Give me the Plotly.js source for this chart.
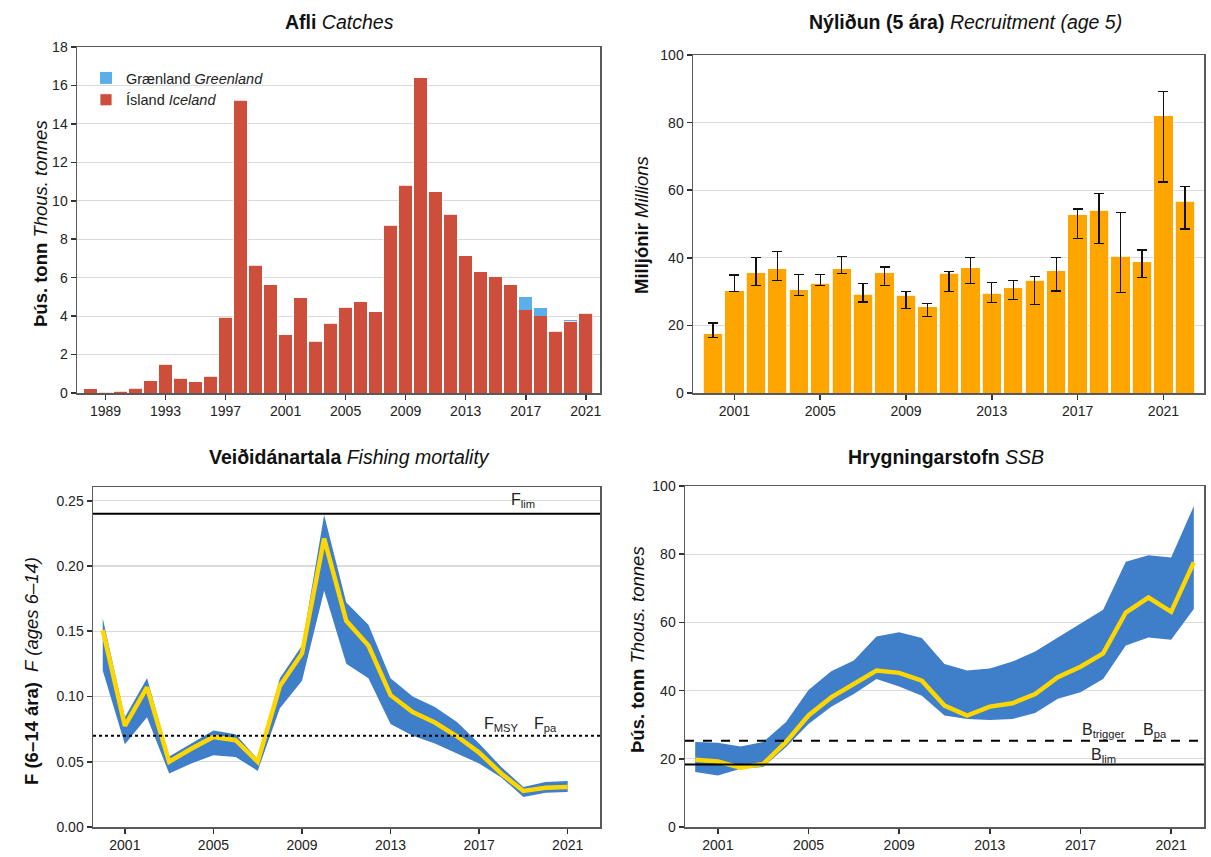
<!DOCTYPE html>
<html>
<head>
<meta charset="utf-8">
<script src="https://cdn.plot.ly/plotly-3.0.1.min.js"></script>
<style>html,body{margin:0;padding:0;background:#fff;}#chart{width:1211px;height:857px;}</style>
</head>
<body>
<div id="chart"></div>
<script>
// ---------- DATA ----------
// Catches (thous. tonnes)
const catchYears = [1988,1989,1990,1991,1992,1993,1994,1995,1996,1997,1998,1999,2000,2001,2002,2003,2004,2005,2006,2007,2008,2009,2010,2011,2012,2013,2014,2015,2016,2017,2018,2019,2020,2021];
const catchIceland = [0.22,0.05,0.10,0.24,0.64,1.49,0.76,0.59,0.88,3.93,15.22,6.64,5.64,3.03,4.95,2.68,3.63,4.46,4.76,4.22,8.74,10.81,16.40,10.47,9.29,7.13,6.31,6.06,5.62,4.33,4.03,3.22,3.74,4.15];
const catchGreenland = [0,0,0,0,0,0,0,0,0,0,0,0,0,0,0,0,0,0,0,0,0,0,0,0,0,0,0,0,0,0.69,0.40,0,0.06,0];

// Recruitment age 5 (millions)
const recYears = [2000,2001,2002,2003,2004,2005,2006,2007,2008,2009,2010,2011,2012,2013,2014,2015,2016,2017,2018,2019,2020,2021,2022];
const recValue = [17.5,30.3,35.6,36.7,30.5,32.4,36.8,29.2,35.6,28.9,25.5,35.4,37.0,29.5,31.1,33.4,36.1,52.7,54.0,40.5,38.9,82.1,56.8];
const recUpper = [20.7,34.9,40.1,41.9,35.0,35.0,40.3,32.3,37.3,30.0,26.5,36.0,40.1,32.6,33.2,34.5,40.1,54.4,59.0,53.4,42.3,89.1,61.1];
const recLower = [16.5,30.1,31.8,33.3,28.8,31.9,35.3,26.9,31.8,25.1,22.7,30.1,32.4,26.8,27.6,26.2,30.2,45.8,44.3,29.8,34.1,62.4,48.5];

// Fishing mortality F (ages 6-14)
const fYears = [2000,2001,2002,2003,2004,2005,2006,2007,2008,2009,2010,2011,2012,2013,2014,2015,2016,2017,2018,2019,2020,2021];
const fValue = [0.151,0.0775,0.107,0.050,0.060,0.069,0.0665,0.050,0.108,0.133,0.221,0.158,0.139,0.101,0.088,0.080,0.0695,0.057,0.041,0.0276,0.030,0.0307];
const fUpper = [0.160,0.084,0.114,0.054,0.064,0.074,0.071,0.052,0.114,0.139,0.239,0.172,0.155,0.114,0.100,0.092,0.0805,0.064,0.046,0.0307,0.0345,0.0353];
const fLower = [0.120,0.0634,0.084,0.041,0.0486,0.055,0.0537,0.043,0.091,0.112,0.181,0.125,0.114,0.079,0.070,0.064,0.056,0.0486,0.038,0.023,0.0263,0.0268];
const Flim = 0.24;
const Fmsy = 0.07;

// Spawning stock biomass (thous. tonnes)
const ssbYears = [2000,2001,2002,2003,2004,2005,2006,2007,2008,2009,2010,2011,2012,2013,2014,2015,2016,2017,2018,2019,2020,2021,2022];
const ssbValue = [19.7,19.2,17.4,18.5,24.9,32.7,38.0,41.8,45.9,45.2,42.9,35.6,32.7,35.3,36.3,39.0,43.9,47.0,50.9,62.9,67.3,63.1,77.6];
const ssbUpper = [24.9,24.7,23.6,24.9,30.7,40.2,45.7,48.8,55.9,57.1,55.4,47.8,45.9,46.5,48.5,51.5,55.6,59.7,63.7,77.8,79.7,79.0,94.1];
const ssbLower = [16.1,15.1,17.1,17.6,23.4,30.2,35.3,39.0,43.4,41.2,38.5,32.7,31.7,31.4,31.7,33.4,37.6,39.5,43.4,53.2,55.6,54.9,63.9];
const Btrigger = 25.3;
const Blim = 18.3;

// ---------- STYLE ----------
const FONT = "Liberation Sans, Arial, Helvetica, sans-serif";
const BAND = "#3f7ec8";
const GOLD = "#ffd700";
const W = 1211, H = 857;
const px = v => v / W;
const py = v => 1 - v / H;

function band(x, up, lo, xa, ya) {
  return {
    x: x.concat(x.slice().reverse()),
    y: up.concat(lo.slice().reverse()),
    xaxis: xa, yaxis: ya, type: 'scatter', mode: 'lines',
    fill: 'toself', fillcolor: BAND, line: {width: 0, color: BAND},
    hoverinfo: 'skip', showlegend: false
  };
}

const traces = [
  {x: catchYears, y: catchIceland, type: 'bar', name: 'Ísland <i>Iceland</i>',
   marker: {color: '#cd4f3b', line: {color: '#ffffff', width: 0.8}}, width: 0.9,
   xaxis: 'x', yaxis: 'y'},
  {x: catchYears, y: catchGreenland, type: 'bar', name: 'Grænland <i>Greenland</i>',
   marker: {color: '#5aaeea', line: {color: '#ffffff', width: 0}}, width: 0.9,
   xaxis: 'x', yaxis: 'y'},
  {x: recYears, y: recValue, type: 'bar', showlegend: false,
   marker: {color: '#ffa500', line: {color: '#ffffff', width: 0.8}}, width: 0.9,
   error_y: {type: 'data', symmetric: false,
     array: recUpper.map((u, i) => u - recValue[i]),
     arrayminus: recLower.map((l, i) => recValue[i] - l),
     color: '#111', thickness: 1.3, width: 5},
   xaxis: 'x2', yaxis: 'y2'},
  band(fYears, fUpper, fLower, 'x3', 'y3'),
  {x: fYears, y: fValue, type: 'scatter', mode: 'lines', showlegend: false,
   line: {color: GOLD, width: 4.5}, xaxis: 'x3', yaxis: 'y3'},
  band(ssbYears, ssbUpper, ssbLower, 'x4', 'y4'),
  {x: ssbYears, y: ssbValue, type: 'scatter', mode: 'lines', showlegend: false,
   line: {color: GOLD, width: 4.5}, xaxis: 'x4', yaxis: 'y4'}
];

function xax(domain, range, tick0, anchor) {
  return {domain: domain, range: range, tick0: tick0, dtick: 4, tickmode: 'linear',
    showgrid: false, zeroline: false, showline: true, mirror: true,
    linecolor: '#5a5a5a', linewidth: 1.5, ticks: 'outside', ticklen: 5, tickwidth: 1.6,
    tickcolor: '#333', tickfont: {family: FONT, size: 14, color: '#222'},
    anchor: anchor, automargin: false, fixedrange: true};
}
function yax(domain, range, dtick, anchor, fmt) {
  return {domain: domain, range: range, dtick: dtick, tick0: 0, tickmode: 'linear',
    showgrid: true, gridcolor: '#dadada', gridwidth: 1.2, zeroline: false,
    showline: true, mirror: true, linecolor: '#5a5a5a', linewidth: 1.5,
    ticks: 'outside', ticklen: 5, tickwidth: 1.6, tickcolor: '#333',
    tickfont: {family: FONT, size: 14, color: '#222'}, tickformat: fmt || '',
    anchor: anchor, automargin: false, fixedrange: true};
}

const txt = (x, y, text, size, extra) => Object.assign({
  xref: 'paper', yref: 'paper', x: x, y: y, text: text, showarrow: false,
  font: {family: FONT, size: size, color: '#111'}, xanchor: 'center', yanchor: 'middle'
}, extra || {});

const refFont = {family: FONT, size: 16, color: '#222'};

const layout = {
  width: W, height: H,
  margin: {l: 0, r: 0, t: 0, b: 0},
  paper_bgcolor: '#fff', plot_bgcolor: '#fff',
  barmode: 'stack', bargap: 0.1,
  font: {family: FONT},
  showlegend: true,
  legend: {x: px(86), y: py(62), xanchor: 'left', yanchor: 'top', traceorder: 'reversed',
    font: {family: FONT, size: 14.5, color: '#222'}, bgcolor: 'rgba(0,0,0,0)',
    itemwidth: 30, tracegroupgap: 0},
  xaxis: xax([px(77), px(600)], [1987.1, 2021.95], 1989, 'y'),
  yaxis: yax([py(393), py(47)], [0, 18], 2, 'x'),
  xaxis2: xax([px(693), px(1204)], [1999.07, 2022.89], 2001, 'y2'),
  yaxis2: yax([py(393), py(55)], [0, 100], 20, 'x2'),
  xaxis3: xax([px(93), px(600)], [1999.56, 2022.46], 2001, 'y3'),
  yaxis3: yax([py(827), py(487)], [0, 0.2605], 0.05, 'x3', '.2f'),
  xaxis4: xax([px(685), px(1204)], [1999.55, 2022.45], 2001, 'y4'),
  yaxis4: yax([py(827), py(486)], [0, 100], 20, 'x4'),
  shapes: [
    {type: 'line', xref: 'x3 domain', yref: 'y3', x0: 0, x1: 1, y0: Flim, y1: Flim,
     line: {color: '#000', width: 2}, layer: 'above'},
    {type: 'line', xref: 'x3 domain', yref: 'y3', x0: 0, x1: 1, y0: Fmsy, y1: Fmsy,
     line: {color: '#000', width: 2, dash: 'dot'}, layer: 'above'},
    {type: 'line', xref: 'x4 domain', yref: 'y4', x0: 0, x1: 1, y0: Btrigger, y1: Btrigger,
     line: {color: '#000', width: 2, dash: 'dash'}, layer: 'above'},
    {type: 'line', xref: 'x4 domain', yref: 'y4', x0: 0, x1: 1, y0: Blim, y1: Blim,
     line: {color: '#000', width: 2}, layer: 'above'}
  ],
  annotations: [
    // panel titles
    txt(px(339), py(22), '<b>Afli</b> <i>Catches</i>', 19.5),
    txt(px(965), py(22), '<b>Nýliðun (5 ára)</b> <i>Recruitment (age 5)</i>', 19.5),
    txt(px(349), py(457), '<b>Veiðidánartala</b> <i>Fishing mortality</i>', 19.5),
    txt(px(946), py(457), '<b>Hrygningarstofn</b> <i>SSB</i>', 19.5),
    // y-axis titles
    txt(px(40), py(224), '<b>Þús. tonn</b> <i>Thous. tonnes</i>', 18.5, {textangle: -90}),
    txt(px(641), py(225), '<b>Milljónir</b> <i>Millions</i>', 18.5, {textangle: -90}),
    txt(px(31), py(671), '<b>F (6–14 ára)</b>  <i>F (ages 6–14)</i>', 18.5, {textangle: -90}),
    txt(px(637), py(650), '<b>Þús. tonn</b> <i>Thous. tonnes</i>', 18.5, {textangle: -90}),
    // reference labels
    {xref: 'x3', yref: 'y3', x: 2019, y: 0.2505, text: 'F<sub>lim</sub>', showarrow: false, font: refFont},
    {xref: 'x3', yref: 'y3', x: 2018, y: 0.0785, text: 'F<sub>MSY</sub>', showarrow: false, font: refFont},
    {xref: 'x3', yref: 'y3', x: 2020, y: 0.0785, text: 'F<sub>pa</sub>', showarrow: false, font: refFont},
    {xref: 'x4', yref: 'y4', x: 2018, y: 28.4, text: 'B<sub>trigger</sub>', showarrow: false, font: refFont},
    {xref: 'x4', yref: 'y4', x: 2020.3, y: 28.4, text: 'B<sub>pa</sub>', showarrow: false, font: refFont},
    {xref: 'x4', yref: 'y4', x: 2018, y: 21, text: 'B<sub>lim</sub>', showarrow: false, font: refFont}
  ]
};

Plotly.newPlot('chart', traces, layout, {displayModeBar: false, staticPlot: true});
</script>
</body>
</html>
